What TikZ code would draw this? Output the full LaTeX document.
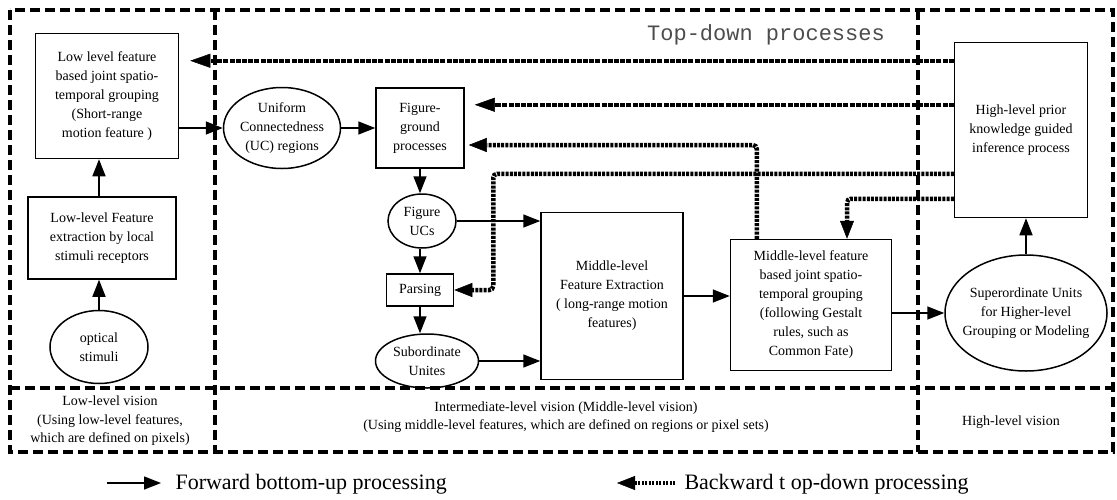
\documentclass[tikz,border=0pt]{standalone}
\usepackage{fontspec}
\setmainfont{Liberation Serif}
\setmonofont{Liberation Mono}
\usetikzlibrary{shapes.geometric,arrows.meta}

\begin{document}
\begin{tikzpicture}[x=1pt,y=-1pt,
		box/.style={rectangle,draw=black,line width=1.5pt,align=center,inner sep=2pt,font=\fontsize{14}{19}\selectfont},
		oval/.style={ellipse,draw=black,line width=1.5pt,align=center,inner ysep=0pt,inner xsep=-4pt,font=\fontsize{14}{19}\selectfont},
		frame/.style={line width=3.2pt,dash pattern=on 10pt off 5pt},
		fwd/.style={line width=1.5pt,-{Triangle[length=17pt,width=13pt]}},
		bwd/.style={line width=4pt,dash pattern=on 5pt off 1.2pt,-{Triangle[length=20pt,width=14pt,line width=0.5pt]}},
		bwddot/.style={line width=4.5pt,dash pattern=on 3pt off 1.2pt,rounded corners=4pt,-{Triangle[length=18pt,width=14pt,line width=0.5pt]}},
		lbl/.style={align=center,font=\fontsize{14}{18.5}\selectfont},
		legend/.style={anchor=west,font=\fontsize{22}{22}\selectfont}]
		\useasboundingbox (0,0) rectangle (1117,499);

		% dashed frame of the three vision levels
		\draw[frame] (10,10) rectangle (1113,452);
		\draw[frame] (215,10) -- (215,452);
		\draw[frame] (918,10) -- (918,452);
		\draw[frame] (10,388) -- (1113,388);

		\node[font=\fontsize{22}{22}\ttfamily,text=black!70] (topdown) at (766,35) {Top-down processes};

		% low-level vision
		\node[box,minimum width=143pt,minimum height=125pt] (lowgroup) at (107,96) {Low level feature\\based joint spatio-\\temporal grouping\\(Short-range\\motion feature )};
		\node[box,minimum width=148pt,minimum height=82pt] (lowfeat) at (102,238) {Low-level Feature\\extraction by local\\stimuli receptors};
		\node[oval,minimum width=98pt,minimum height=73pt] (optical) at (99,347) {optical\\stimuli};

		% intermediate-level vision
		\node[oval,minimum width=117pt,minimum height=81pt] (ucreg) at (282,128) {Uniform\\Connectedness\\(UC) regions};
		\node[box,minimum width=88pt,minimum height=80pt] (figground) at (420,128) {Figure-\\ground\\processes};
		\node[oval,minimum width=68pt,minimum height=54pt] (figuc) at (422,221) {Figure\\UCs};
		\node[box,minimum width=67pt,minimum height=32pt] (parsing) at (420,290) {Parsing};
		\node[oval,minimum width=103pt,minimum height=54pt] (subunit) at (427,361) {Subordinate\\Unites};
		\node[box,minimum width=142pt,minimum height=167pt] (midextract) at (612,296) {Middle-level\\Feature Extraction\\( long-range motion\\features)};
		\node[box,minimum width=161pt,minimum height=131pt] (midgroup) at (811,305) {Middle-level feature\\based joint spatio-\\temporal grouping\\(following Gestalt\\rules, such as\\Common Fate)};

		% high-level vision
		\node[oval,inner xsep=-8pt,minimum width=162pt,minimum height=116pt] (superunit) at (1026,313) {Superordinate Units\\for Higher-level\\Grouping or Modeling};
		\node[box,minimum width=133pt,minimum height=175pt] (highprior) at (1021,130) {High-level prior\\knowledge guided\\inference process};

		% forward bottom-up
		\draw[fwd] (optical.north) -- (optical.north |- lowfeat.south);
		\draw[fwd] (lowfeat.north -| optical.north) -- (lowgroup.south -| optical.north);
		\draw[fwd] (lowgroup.east |- ucreg.west) -- (ucreg.west);
		\draw[fwd] (ucreg.east) -- (figground.west);
		\draw[fwd] (figground.south) -- (figground.south |- figuc.north);
		\draw[fwd] (figuc.south -| parsing.north) -- (parsing.north);
		\draw[fwd] (parsing.south) -- (parsing.south |- subunit.north);
		\draw[fwd] (figuc.east) -- (figuc.east -| midextract.west);
		\draw[fwd] (subunit.east) -- (subunit.east -| midextract.west);
		\draw[fwd] (midextract.east) -- (midextract.east -| midgroup.west);
		\draw[fwd] (midgroup.east |- superunit.west) -- (superunit.west);
		\draw[fwd] (superunit.north) -- (superunit.north |- highprior.south);

		% backward top-down
		\coordinate (hl1) at ([yshift=-19pt]highprior.north west);
		\coordinate (hl2) at ([yshift=-63pt]highprior.north west);
		\coordinate (hl3) at ([yshift=-132pt]highprior.north west);
		\coordinate (hl4) at ([yshift=-157pt]highprior.north west);
		\coordinate (fg3) at ([yshift=-17pt]figground.east);
		\coordinate (mg1) at ([xshift=27pt]midgroup.north west);
		\coordinate (pr1) at ([xshift=39pt]parsing.east);
		\coordinate (mg2) at ([xshift=36pt]midgroup.north);
		\draw[bwd,shorten >=11pt] (hl1) -- (hl1 -| lowgroup.east);
		\draw[bwd,shorten >=10pt] (hl2) -- (hl2 -| figground.east);
		\draw[bwddot,shorten >=4pt] (mg1) |- (fg3);
		\draw[bwddot] (hl3) -| (pr1) -- (parsing.east);
		\draw[bwddot] (hl4) -| (mg2);

		% level labels
		\node[lbl] (lowlabel) at (110,421) {Low-level vision\\(Using low-level features,\\which are defined on pixels)};
		\node[lbl] (midlabel) at (566,417) {Intermediate-level vision (Middle-level vision)\\(Using middle-level features, which are defined on regions or pixel sets)};
		\node[lbl] (highlabel) at (1011,422) {High-level vision};

		% legend
		\coordinate (fwdstart) at (107,483);
		\coordinate (fwdend) at (161,483);
		\draw[fwd] (fwdstart) -- (fwdend);
		\node[legend] (fwdtext) at (172,484) {Forward bottom-up processing};
		\coordinate (bwdstart) at (675,483);
		\coordinate (bwdend) at (617,483);
		\draw[bwddot,line width=3.5pt,dash pattern=on 2pt off 1.5pt] (bwdstart) -- (bwdend);
		\node[legend] (bwdtext) at (681,484) {Backward t op-down processing};
	\end{tikzpicture}
\end{document}
